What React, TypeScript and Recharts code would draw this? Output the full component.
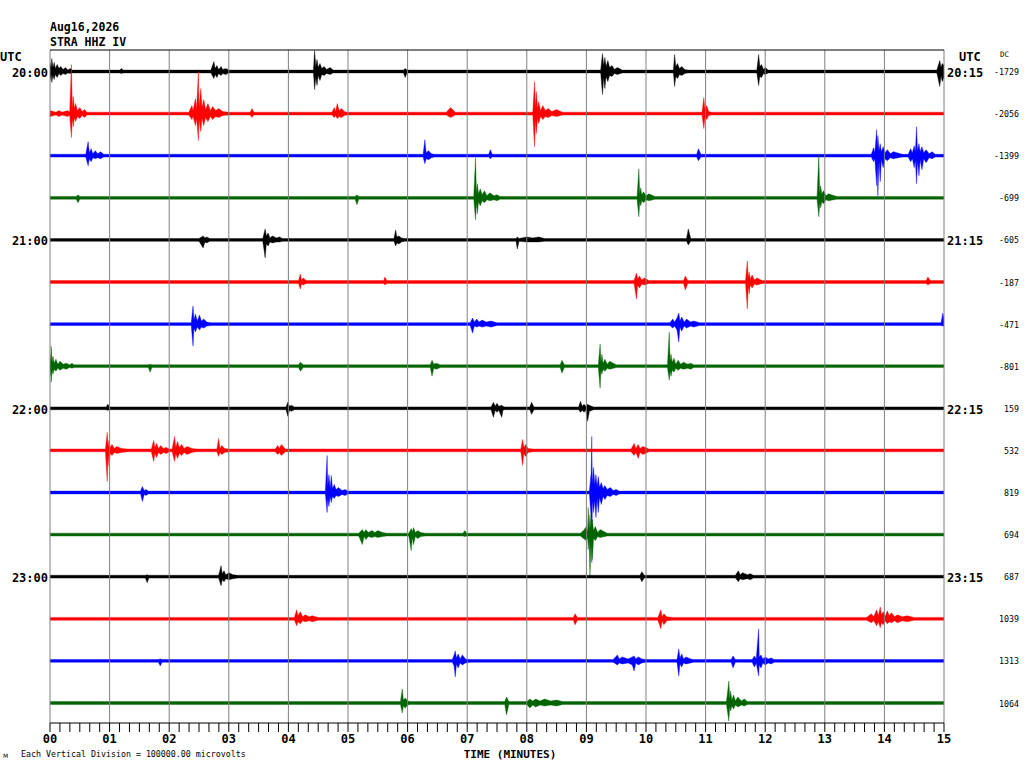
import { ComposedChart, Area, XAxis, YAxis, ReferenceLine } from "recharts";

// helicorder: 16 rows of 15 minutes, colours cycle per row
const TRACE_COLORS = ["#000000", "#ff0000", "#0000ff", "#006400"];
const LEFT_LABELS = ["20:00", "21:00", "22:00", "23:00"];
const RIGHT_LABELS = ["20:15", "21:15", "22:15", "23:15"];
const DC_VALUES = [
  -1729, -2056, -1399, -699, -605, -187, -471, -801, 159, 532, 819, 694, 687,
  1039, 1313, 1064,
];
const MINUTE_LABELS = [
  "00", "01", "02", "03", "04", "05", "06", "07",
  "08", "09", "10", "11", "12", "13", "14", "15",
];
const MINOR_PER_MINUTE = 6; // a tick every 10 s
const N = 1.4; // background noise half-amplitude

// each row: [minute, peak up, peak down]
const T0 = [
  [0, 9, 9], [0.02, 4, 3], [0.03, 13, 11], [0.05, 4, 4], [0.07, 9, 8], [0.09, 3, 3], [0.12, 7, 6], [0.15, 3, 2], [0.18, 5, 4], [0.22, 2, 2], [0.26, 4, 3], [0.3, N, N], [0.34, 3, 2], [0.37, N, N],
  [1.17, N, N], [1.2, 3, 2], [1.23, N, N],
  [2.7, N, N], [2.75, 10, 7], [2.77, 3, 3], [2.8, 6, 6], [2.83, 2, 2], [2.87, 5, 4], [2.9, 2, 2], [2.95, 3, 3], [3.0, N, N],
  [4.42, N, N], [4.44, 21, 18], [4.46, 5, 6], [4.48, 12, 14], [4.5, 4, 4], [4.53, 8, 9], [4.56, 3, 3], [4.6, 5, 4], [4.64, 2, 2], [4.7, 4, 3], [4.75, N, N],
  [5.93, N, N], [5.96, 3, 6], [5.99, N, N],
  [9.24, N, N], [9.27, 18, 23], [9.29, 6, 6], [9.31, 14, 17], [9.33, 5, 5], [9.36, 11, 10], [9.39, 4, 4], [9.43, 6, 5], [9.47, 2, 2], [9.52, 4, 3], [9.6, N, N],
  [10.46, N, N], [10.48, 17, 15], [10.5, 5, 5], [10.53, 8, 7], [10.56, 3, 3], [10.6, 5, 4], [10.65, 2, 2], [10.7, N, N],
  [11.86, N, N], [11.89, 17, 14], [11.91, 5, 5], [11.94, 7, 6], [11.97, 2, 2], [12.0, 4, 3], [12.05, N, N],
  [14.88, N, N], [14.93, 11, 15], [14.95, 4, 4], [14.97, 8, 10], [15, 6, 6],
];
const T1 = [
  [0, 3, 3], [0.1, N, N], [0.15, 3, 3], [0.2, N, N], [0.3, 3, 3], [0.33, N, N], [0.36, 49, 24], [0.375, 5, 5], [0.39, 17, 13], [0.41, 5, 4], [0.43, 10, 8], [0.46, 3, 3], [0.5, 6, 5], [0.54, 2, 2], [0.58, 4, 4], [0.62, N, N],
  [2.33, N, N], [2.38, 8, 6], [2.4, 3, 3], [2.44, 15, 12], [2.46, 5, 5], [2.49, 42, 27], [2.5, 6, 6], [2.53, 25, 18], [2.55, 6, 5], [2.58, 14, 12], [2.61, 4, 4], [2.65, 10, 8], [2.69, 3, 3], [2.73, 7, 6], [2.78, 3, 3], [2.83, 5, 4], [2.9, 2, 2], [3.0, N, N],
  [3.36, N, N], [3.39, 5, 4], [3.42, N, N],
  [4.73, N, N], [4.77, 6, 4], [4.79, 2, 2], [4.82, 10, 5], [4.85, 3, 3], [4.89, 5, 4], [4.94, 2, 2], [4.98, N, N],
  [6.65, N, N], [6.72, 6, 4], [6.8, N, N],
  [8.1, N, N], [8.13, 32, 33], [8.145, 6, 6], [8.16, 22, 20], [8.18, 5, 5], [8.2, 12, 10], [8.23, 3, 3], [8.27, 8, 6], [8.31, 3, 3], [8.36, 5, 4], [8.42, 2, 2], [8.5, 4, 3], [8.6, N, N],
  [10.94, N, N], [10.97, 16, 15], [10.99, 4, 4], [11.02, 8, 6], [11.05, 2, 2], [11.1, N, N],
];
const T2 = [
  [0.6, N, N], [0.64, 14, 10], [0.66, 3, 3], [0.69, 7, 6], [0.72, 2, 2], [0.76, 5, 3], [0.8, 2, 2], [0.85, 4, 3], [0.9, N, N],
  [6.26, N, N], [6.29, 16, 8], [6.31, 3, 3], [6.35, 5, 4], [6.4, 2, 2], [6.45, N, N],
  [7.36, N, N], [7.39, 6, 3], [7.42, N, N],
  [10.85, N, N], [10.88, 7, 5], [10.92, N, N],
  [13.78, N, N], [13.82, 8, 6], [13.84, 3, 3], [13.87, 26, 30], [13.88, 8, 8], [13.89, 20, 40], [13.91, 5, 5], [13.93, 12, 26], [13.95, 4, 4], [13.98, 9, 12], [14.01, 3, 3], [14.05, 6, 5], [14.1, 2, 2], [14.15, 4, 3], [14.3, N, N],
  [14.4, N, N], [14.44, 7, 6], [14.47, 3, 3], [14.5, 10, 12], [14.52, 4, 4], [14.54, 29, 28], [14.555, 5, 5], [14.58, 12, 20], [14.6, 4, 4], [14.63, 9, 14], [14.66, 3, 3], [14.7, 6, 7], [14.75, 2, 2], [14.8, 4, 3], [14.85, N, N],
];
const T3 = [
  [0.44, N, N], [0.47, 3, 5], [0.5, N, N],
  [5.12, N, N], [5.15, 3, 7], [5.18, N, N],
  [7.11, N, N], [7.14, 40, 22], [7.155, 5, 5], [7.17, 14, 16], [7.19, 4, 4], [7.22, 9, 8], [7.25, 3, 3], [7.29, 7, 5], [7.33, 2, 2], [7.38, 5, 3], [7.45, 2, 2], [7.5, 3, 3], [7.55, N, N],
  [9.85, N, N], [9.88, 29, 19], [9.895, 4, 4], [9.91, 10, 8], [9.93, 3, 3], [9.96, 6, 5], [10.0, 2, 2], [10.05, 4, 3], [10.15, N, N],
  [12.87, N, N], [12.9, 43, 19], [12.915, 5, 5], [12.93, 12, 10], [12.95, 4, 4], [12.98, 7, 6], [13.02, 2, 2], [13.06, 4, 3], [13.2, N, N],
];
const T4 = [
  [2.5, N, N], [2.57, 4, 8], [2.6, 2, 2], [2.63, 3, 3], [2.68, N, N],
  [3.57, N, N], [3.61, 11, 18], [3.63, 4, 4], [3.66, 7, 6], [3.69, 2, 2], [3.73, 4, 3], [3.8, 2, 2], [3.85, 3, 2], [3.9, N, N],
  [5.77, N, N], [5.8, 10, 6], [5.82, 3, 3], [5.85, 4, 4], [5.9, 2, 2], [5.95, N, N],
  [7.82, N, N], [7.84, 3, 9], [7.87, N, N],
  [8.0, 3, 2], [8.1, 2, 2], [8.2, 3, 2], [8.3, N, N],
  [10.68, N, N], [10.71, 11, 5], [10.75, N, N],
];
const T5 = [
  [4.17, N, N], [4.2, 8, 7], [4.22, 2, 2], [4.25, 4, 3], [4.3, N, N],
  [5.6, N, N], [5.62, 5, 3], [5.65, N, N],
  [9.8, N, N], [9.84, 9, 17], [9.86, 3, 3], [9.89, 6, 6], [9.93, 2, 2], [9.97, 4, 3], [10.05, N, N],
  [10.63, N, N], [10.66, 6, 8], [10.7, N, N],
  [11.67, N, N], [11.7, 21, 27], [11.715, 4, 4], [11.73, 10, 12], [11.75, 3, 3], [11.78, 7, 6], [11.82, 2, 2], [11.86, 4, 3], [11.95, N, N],
  [14.7, N, N], [14.73, 5, 3], [14.77, N, N],
];
const T6 = [
  [2.37, N, N], [2.4, 18, 22], [2.415, 4, 4], [2.44, 10, 8], [2.47, 3, 3], [2.51, 9, 6], [2.54, 3, 3], [2.58, 5, 4], [2.63, 2, 2], [2.7, N, N],
  [7.05, N, N], [7.09, 6, 9], [7.12, 2, 2], [7.16, 5, 3], [7.2, 2, 2], [7.25, 4, 3], [7.32, 2, 2], [7.4, 3, 3], [7.5, N, N],
  [10.4, N, N], [10.45, 5, 4], [10.48, 2, 2], [10.52, 6, 6], [10.55, 11, 18], [10.57, 3, 3], [10.6, 7, 7], [10.64, 2, 2], [10.68, 5, 4], [10.75, 2, 2], [10.8, 3, 3], [10.9, N, N],
  [14.95, N, N], [14.98, 11, 2], [15, 5, 2],
];
const T7 = [
  [0, 12, 10], [0.01, 3, 3], [0.02, 20, 16], [0.035, 4, 4], [0.05, 10, 8], [0.07, 3, 3], [0.1, 7, 5], [0.13, 2, 2], [0.17, 5, 4], [0.22, 2, 2], [0.27, 3, 3], [0.33, N, N], [0.37, 3, 2], [0.4, N, N],
  [1.65, N, N], [1.68, 2, 6], [1.71, N, N],
  [4.17, N, N], [4.2, 4, 5], [4.25, N, N],
  [6.38, N, N], [6.41, 6, 10], [6.44, 2, 2], [6.48, 3, 3], [6.55, N, N],
  [8.56, N, N], [8.59, 6, 7], [8.63, N, N],
  [9.2, N, N], [9.23, 22, 22], [9.245, 4, 4], [9.26, 12, 8], [9.28, 3, 3], [9.31, 7, 5], [9.35, 2, 2], [9.39, 5, 3], [9.5, N, N],
  [10.36, N, N], [10.39, 34, 14], [10.405, 5, 5], [10.42, 12, 10], [10.44, 4, 4], [10.47, 8, 6], [10.5, 2, 2], [10.54, 6, 4], [10.58, 2, 2], [10.63, 4, 3], [10.7, 2, 2], [10.75, 3, 3], [10.8, N, N],
];
const T8 = [
  [0.94, N, N], [0.97, 4, 2], [1.0, N, N],
  [3.96, N, N], [3.99, 6, 8], [4.02, 2, 2], [4.05, 3, 3], [4.1, N, N],
  [7.4, N, N], [7.44, 6, 9], [7.47, 2, 2], [7.5, 5, 4], [7.53, 2, 2], [7.58, 3, 9], [7.6, 2, 2], [7.63, N, N],
  [8.05, N, N], [8.08, 6, 6], [8.12, N, N],
  [8.87, N, N], [8.9, 7, 4], [8.93, 2, 2], [8.96, 4, 4], [8.99, 2, 2], [9.02, 4, 13], [9.05, 3, 3], [9.12, N, N],
];
const T9 = [
  [0.93, N, N], [0.96, 18, 31], [0.975, 4, 4], [0.99, 10, 16], [1.01, 3, 3], [1.04, 6, 5], [1.08, 2, 2], [1.12, 4, 3], [1.2, 2, 2], [1.3, N, N],
  [1.7, N, N], [1.74, 10, 11], [1.76, 3, 3], [1.79, 7, 7], [1.82, 2, 2], [1.86, 5, 4], [1.9, 2, 2], [1.95, 3, 3], [2.0, N, N],
  [2.05, N, N], [2.09, 14, 11], [2.11, 3, 3], [2.14, 9, 8], [2.17, 3, 3], [2.21, 6, 5], [2.25, 2, 2], [2.3, 4, 4], [2.38, 2, 2], [2.45, N, N],
  [2.8, N, N], [2.83, 12, 6], [2.85, 2, 2], [2.88, 5, 4], [2.93, 2, 2], [3.0, N, N],
  [3.78, N, N], [3.82, 5, 4], [3.85, 2, 2], [3.88, 6, 5], [3.95, N, N],
  [7.9, N, N], [7.93, 11, 15], [7.95, 3, 3], [7.98, 6, 6], [8.02, 2, 2], [8.1, N, N],
  [9.75, N, N], [9.8, 7, 5], [9.83, 2, 2], [9.87, 6, 8], [9.9, 2, 2], [9.95, 4, 4], [10.05, N, N],
];
const T10 = [
  [1.52, N, N], [1.55, 6, 9], [1.58, 2, 2], [1.61, 3, 3], [1.65, N, N],
  [4.62, N, N], [4.65, 37, 20], [4.66, 6, 6], [4.68, 18, 14], [4.7, 4, 4], [4.72, 17, 10], [4.74, 4, 4], [4.77, 8, 6], [4.8, 3, 3], [4.84, 5, 4], [4.9, 2, 2], [4.95, 3, 3], [5.0, N, N],
  [9.05, N, N], [9.08, 20, 25], [9.09, 56, 70], [9.1, 8, 8], [9.12, 25, 20], [9.14, 8, 8], [9.16, 18, 25], [9.18, 6, 6], [9.2, 16, 20], [9.22, 5, 5], [9.25, 10, 12], [9.28, 4, 4], [9.31, 7, 7], [9.35, 3, 3], [9.4, 5, 4], [9.45, 2, 2], [9.5, 3, 3], [9.55, N, N],
];
const T11 = [
  [5.18, N, N], [5.24, 5, 10], [5.27, 2, 2], [5.3, 5, 5], [5.34, 2, 2], [5.4, 4, 3], [5.45, 2, 2], [5.5, 4, 3], [5.58, 2, 2], [5.65, N, N],
  [6.02, N, N], [6.06, 6, 16], [6.08, 3, 3], [6.1, 7, 10], [6.13, 2, 2], [6.17, 4, 4], [6.22, 2, 2], [6.3, N, N],
  [6.93, N, N], [6.96, 4, 2], [6.99, N, N],
  [8.9, N, N], [8.95, 4, 4], [9.0, 8, 6], [9.02, 3, 3], [9.03, 27, 15], [9.045, 5, 5], [9.06, 20, 41], [9.08, 5, 5], [9.1, 15, 25], [9.12, 4, 4], [9.15, 8, 6], [9.19, 2, 2], [9.23, 5, 3], [9.35, N, N],
];
const T12 = [
  [1.6, N, N], [1.63, 2, 6], [1.66, N, N],
  [2.83, N, N], [2.87, 11, 9], [2.89, 3, 3], [2.92, 6, 5], [2.95, 2, 2], [3.0, 4, 3], [3.07, 2, 2], [3.15, N, N],
  [9.9, N, N], [9.93, 5, 5], [9.97, N, N],
  [11.5, N, N], [11.55, 6, 5], [11.58, 2, 2], [11.62, 4, 3], [11.7, 2, 2], [11.75, 3, 3], [11.8, N, N],
];
const T13 = [
  [4.1, N, N], [4.14, 9, 7], [4.16, 3, 3], [4.2, 7, 5], [4.24, 2, 2], [4.28, 4, 3], [4.35, 2, 2], [4.4, 3, 3], [4.5, N, N],
  [8.78, N, N], [8.81, 5, 6], [8.85, N, N],
  [10.2, N, N], [10.25, 9, 10], [10.27, 2, 2], [10.3, 5, 6], [10.35, 2, 2], [10.45, N, N],
  [13.7, N, N], [13.78, 5, 4], [13.82, 2, 2], [13.87, 9, 7], [13.9, 3, 3], [13.93, 12, 9], [13.95, 4, 4], [13.98, 7, 6], [14.01, 2, 2], [14.05, 8, 5], [14.08, 3, 3], [14.12, 6, 4], [14.17, 2, 2], [14.22, 4, 4], [14.3, 2, 2], [14.38, 3, 3], [14.5, N, N],
];
const T14 = [
  [1.82, N, N], [1.85, 2, 5], [1.88, N, N],
  [6.75, N, N], [6.78, 6, 5], [6.8, 10, 16], [6.82, 3, 3], [6.85, 7, 7], [6.88, 2, 2], [6.92, 6, 4], [6.97, 2, 2], [7.05, N, N],
  [9.45, N, N], [9.52, 6, 4], [9.55, 2, 2], [9.6, 4, 3], [9.7, 2, 2], [9.77, 4, 4], [9.8, 5, 10], [9.83, 2, 2], [9.87, 4, 4], [9.93, 2, 2], [10.0, N, N],
  [10.52, N, N], [10.55, 12, 15], [10.57, 3, 3], [10.6, 7, 6], [10.63, 2, 2], [10.67, 4, 3], [10.75, 2, 2], [10.8, N, N],
  [11.43, N, N], [11.46, 5, 7], [11.5, N, N],
  [11.78, N, N], [11.82, 5, 6], [11.85, 2, 2], [11.89, 32, 15], [11.9, 4, 4], [11.93, 6, 7], [11.96, 2, 2], [12.0, 4, 4], [12.05, 2, 2], [12.1, 3, 3], [12.15, N, N],
];
const T15 = [
  [5.88, N, N], [5.91, 14, 10], [5.93, 3, 3], [5.96, 5, 5], [6.0, 2, 2], [6.05, N, N],
  [7.63, N, N], [7.66, 6, 12], [7.7, N, N],
  [8.0, N, N], [8.05, 4, 5], [8.1, 2, 2], [8.15, 4, 4], [8.22, 2, 2], [8.3, 4, 3], [8.4, 2, 2], [8.5, 3, 3], [8.6, N, N],
  [11.35, N, N], [11.39, 22, 18], [11.405, 4, 4], [11.42, 12, 8], [11.44, 3, 3], [11.47, 8, 6], [11.5, 2, 2], [11.54, 6, 4], [11.6, 2, 2], [11.65, 4, 3], [11.7, N, N],
];

const TRACES = [T0, T1, T2, T3, T4, T5, T6, T7, T8, T9, T10, T11, T12, T13, T14, T15];

const Y_MAX = 673;
const ROW = 42.1;
const FIRST = 21.5;
const PLOT_TOP = 50;

const MINUTES = MINUTE_LABELS.map((_, i) => i);
const TICKS = Array.from({ length: 15 * MINOR_PER_MINUTE + 1 }, (_, i) => i / MINOR_PER_MINUTE);

function buildRows(points: number[][], k: number) {
  const base = Y_MAX - FIRST - ROW * k;
  const all = [
    ...(points[0][0] > 0 ? [[0, N, N]] : []),
    ...points,
    ...(points[points.length - 1][0] < 15 ? [[15, N, N]] : []),
  ];
  return all.map(([m, up, dn]) => ({ m, band: [base - dn, base + up] }));
}

const MinuteTick = (props: any) => {
  const { x, y, payload } = props;
  const v = payload.value;
  if (!Number.isInteger(v)) return <g />;
  return (
    <text
      x={x}
      y={y}
      dy={9}
      textAnchor="middle"
      fontFamily="DejaVu Sans Mono"
      fontWeight="bold"
      fontSize={12}
      fill="#000"
    >
      {MINUTE_LABELS[v]}
    </text>
  );
};

const bold = { fontFamily: "DejaVu Sans Mono", fontWeight: "bold" as const, fontSize: 12 };
const small = { fontFamily: "DejaVu Sans Mono", fontSize: 8.3 };

export default function App() {
  const rowY = (k: number) => PLOT_TOP + FIRST + ROW * k;
  return (
    <div style={{ position: "absolute", left: 0, top: 0, width: 1024, height: 768, background: "#fff" }}>
      <ComposedChart
        width={1024}
        height={768}
        margin={{ top: 50, right: 80, bottom: 15, left: 50 }}
      >
        <XAxis
          dataKey="m"
          type="number"
          domain={[0, 15]}
          allowDataOverflow
          ticks={TICKS}
          interval={0}
          tickSize={9}
          height={30}
          axisLine={{ stroke: "#000" }}
          tickLine={{ stroke: "#000" }}
          tick={<MinuteTick />}
        />
        <YAxis type="number" domain={[0, Y_MAX]} allowDataOverflow hide />
        {MINUTES.map((m) => (
          <ReferenceLine key={`g${m}`} x={m} stroke="#808080" strokeWidth={1} />
        ))}
        <ReferenceLine y={Y_MAX} stroke="#000" strokeWidth={1} />
        {TRACES.map((pts, k) => (
          <Area
            key={`t${k}`}
            data={buildRows(pts, k)}
            dataKey="band"
            type="linear"
            stroke={TRACE_COLORS[k % 4]}
            strokeWidth={0.4}
            fill={TRACE_COLORS[k % 4]}
            fillOpacity={1}
            dot={false}
            activeDot={false}
            isAnimationActive={false}
          />
        ))}
      </ComposedChart>
      <svg
        width={1024}
        height={768}
        style={{ position: "absolute", left: 0, top: 0, pointerEvents: "none" }}
      >
        <text x={50} y={31} {...bold} fontSize={11.5}>Aug16,2026</text>
        <text x={50} y={46} {...bold} fontSize={11.5}>STRA HHZ IV</text>
        <text x={0} y={61} {...bold}>UTC</text>
        <text x={959} y={61} {...bold}>UTC</text>
        <text x={1000} y={57} {...small} fontSize={7.5}>DC</text>
        {LEFT_LABELS.map((t, i) => (
          <text key={`l${t}`} x={48} y={rowY(i * 4) + 5.5} textAnchor="end" {...bold}>
            {t}
          </text>
        ))}
        {RIGHT_LABELS.map((t, i) => (
          <text key={`r${t}`} x={947} y={rowY(i * 4) + 5.5} {...bold}>
            {t}
          </text>
        ))}
        {DC_VALUES.map((v, k) => (
          <text key={`dc${k}`} x={1019} y={rowY(k) + 3.5} textAnchor="end" {...small}>
            {v}
          </text>
        ))}
        <text x={510} y={758} textAnchor="middle" {...bold} fontSize={11}>
          TIME (MINUTES)
        </text>
        <text x={21} y={757} {...small}>
          Each Vertical Division = 100000.00 microvolts
        </text>
        <text x={3} y={758} fontFamily="DejaVu Sans" fontSize={6}>M</text>
      </svg>
    </div>
  );
}
